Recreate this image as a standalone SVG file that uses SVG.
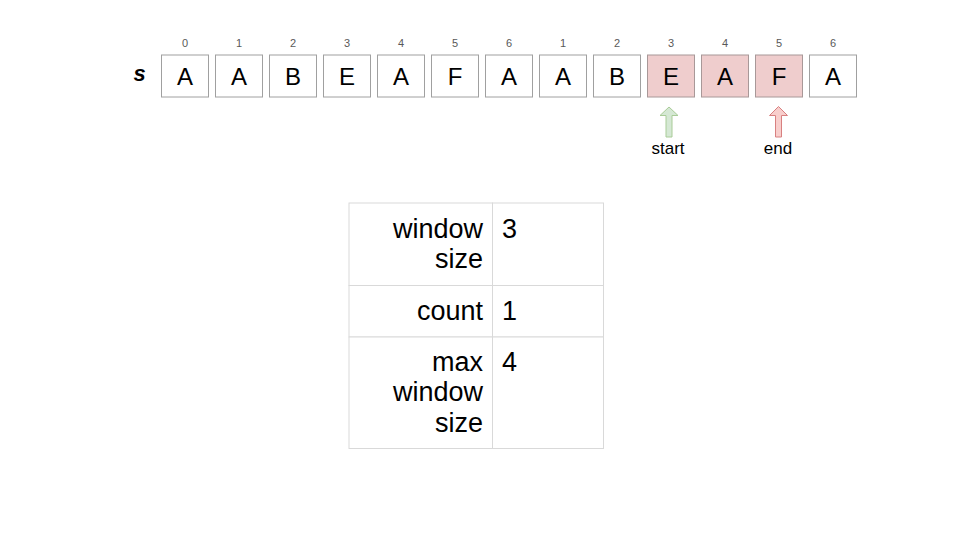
<svg xmlns="http://www.w3.org/2000/svg" width="960" height="540" viewBox="0 0 960 540">
<style>
.box{fill:#ffffff;stroke:#a0a0a0;stroke-width:1}
.hl{fill:#efcdcd;stroke:#a89898;stroke-width:1}
.ch{font-family:"Liberation Sans",Arial,sans-serif;font-size:24px;fill:#000;text-anchor:middle}
.ix{font-family:"Liberation Sans",Arial,sans-serif;font-size:11px;fill:#595959;text-anchor:middle}
.lbl{font-family:"Liberation Sans",Arial,sans-serif;font-size:17px;fill:#000;text-anchor:middle}
.cell{fill:#ffffff;stroke:#d9d9d9;stroke-width:1}
.tk{font-family:"Liberation Sans",Arial,sans-serif;font-size:27px;fill:#000;text-anchor:end}
.tv{font-family:"Liberation Sans",Arial,sans-serif;font-size:27px;fill:#000;text-anchor:start}
</style>
<rect width="960" height="540" fill="#ffffff"/>
<g id="label-s"><text x="139.5" y="81" font-family="Liberation Sans,Arial,sans-serif" font-size="22" font-style="italic" font-weight="bold" text-anchor="middle">s</text></g>
<g id="indices">
<text class="ix" x="185" y="47">0</text>
<text class="ix" x="239" y="47">1</text>
<text class="ix" x="293" y="47">2</text>
<text class="ix" x="347" y="47">3</text>
<text class="ix" x="401" y="47">4</text>
<text class="ix" x="455" y="47">5</text>
<text class="ix" x="509" y="47">6</text>
<text class="ix" x="563" y="47">1</text>
<text class="ix" x="617" y="47">2</text>
<text class="ix" x="671" y="47">3</text>
<text class="ix" x="725" y="47">4</text>
<text class="ix" x="779" y="47">5</text>
<text class="ix" x="833" y="47">6</text>
</g>
<g id="cell0"><rect class="box" x="161.5" y="55" width="47" height="42"/><text class="ch" x="185" y="84.5">A</text></g>
<g id="cell1"><rect class="box" x="215.5" y="55" width="47" height="42"/><text class="ch" x="239" y="84.5">A</text></g>
<g id="cell2"><rect class="box" x="269.5" y="55" width="47" height="42"/><text class="ch" x="293" y="84.5">B</text></g>
<g id="cell3"><rect class="box" x="323.5" y="55" width="47" height="42"/><text class="ch" x="347" y="84.5">E</text></g>
<g id="cell4"><rect class="box" x="377.5" y="55" width="47" height="42"/><text class="ch" x="401" y="84.5">A</text></g>
<g id="cell5"><rect class="box" x="431.5" y="55" width="47" height="42"/><text class="ch" x="455" y="84.5">F</text></g>
<g id="cell6"><rect class="box" x="485.5" y="55" width="47" height="42"/><text class="ch" x="509" y="84.5">A</text></g>
<g id="cell7"><rect class="box" x="539.5" y="55" width="47" height="42"/><text class="ch" x="563" y="84.5">A</text></g>
<g id="cell8"><rect class="box" x="593.5" y="55" width="47" height="42"/><text class="ch" x="617" y="84.5">B</text></g>
<g id="cell9"><rect class="hl" x="647.5" y="55" width="47" height="42"/><text class="ch" x="671" y="84.5">E</text></g>
<g id="cell10"><rect class="hl" x="701.5" y="55" width="47" height="42"/><text class="ch" x="725" y="84.5">A</text></g>
<g id="cell11"><rect class="hl" x="755.5" y="55" width="47" height="42"/><text class="ch" x="779" y="84.5">F</text></g>
<g id="cell12"><rect class="box" x="809.5" y="55" width="47" height="42"/><text class="ch" x="833" y="84.5">A</text></g>
<g id="connectors">
<path id="arrow-start" d="M669,107 L678,115.5 L672,115.5 L672,137 L666,137 L666,115.5 L660,115.5 Z" fill="#d5e8d4" stroke="#a9cc98" stroke-width="1"/>
<path id="arrow-end" d="M778.5,106.5 L787.5,115.5 L781.5,115.5 L781.5,137 L775.5,137 L775.5,115.5 L769.5,115.5 Z" fill="#f8cecc" stroke="#d88080" stroke-width="1"/>
</g>
<g id="label-start"><text class="lbl" x="668" y="154">start</text></g>
<g id="label-end"><text class="lbl" x="778" y="154">end</text></g>
<g id="table">
<rect class="cell" x="349" y="203" width="143.5" height="82.5"/>
<rect class="cell" x="492.5" y="203" width="111" height="82.5"/>
<rect class="cell" x="349" y="285.5" width="143.5" height="51.5"/>
<rect class="cell" x="492.5" y="285.5" width="111" height="51.5"/>
<rect class="cell" x="349" y="337" width="143.5" height="111.5"/>
<rect class="cell" x="492.5" y="337" width="111" height="111.5"/>
<text class="tk" x="483" y="238">window</text>
<text class="tk" x="483" y="268">size</text>
<text class="tv" x="502" y="238">3</text>
<text class="tk" x="483" y="320">count</text>
<text class="tv" x="502" y="320">1</text>
<text class="tk" x="483" y="371">max</text>
<text class="tk" x="483" y="401">window</text>
<text class="tk" x="483" y="432">size</text>
<text class="tv" x="502" y="371">4</text>
</g>
</svg>
